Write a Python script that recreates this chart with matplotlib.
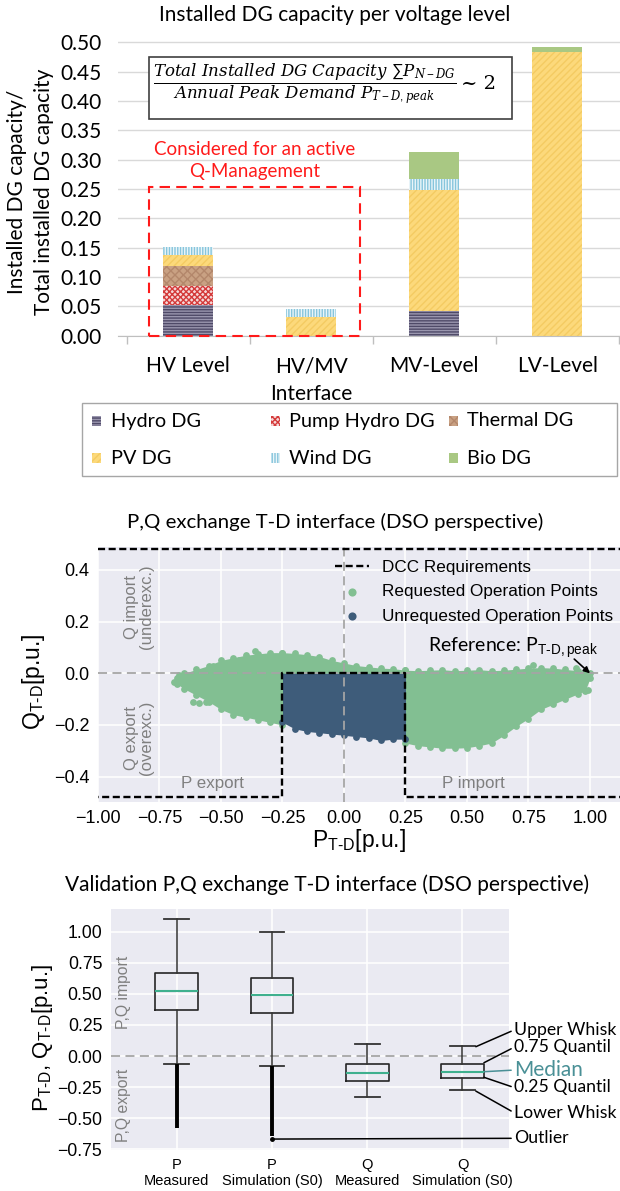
import matplotlib
matplotlib.use('Agg')
import matplotlib.pyplot as plt
from matplotlib.patches import Rectangle
from matplotlib.lines import Line2D
import numpy as np

# ---------------- panel 1: installed DG capacity per voltage level
LEVELS = ['HV Level', 'HV/MV\nInterface', 'MV-Level', 'LV-Level']
DG_TYPES = ['Hydro DG', 'Pump Hydro DG', 'Thermal DG', 'PV DG', 'Wind DG', 'Bio DG']
HYDRO = [0.052, 0.000, 0.042, 0.000]
PUMP_HYDRO = [0.033, 0.000, 0.000, 0.000]
THERMAL = [0.034, 0.000, 0.000, 0.000]
PV = [0.018, 0.032, 0.207, 0.484]
WIND = [0.014, 0.013, 0.018, 0.000]
BIO = [0.000, 0.000, 0.046, 0.008]
Y1_TICKS = [0.00, 0.05, 0.10, 0.15, 0.20, 0.25, 0.30, 0.35, 0.40, 0.45, 0.50]
Q_MGMT_BOX = (-0.32, 1.40, 0.254)      # x0, x1, height of red dashed frame

# ---------------- panel 2: P,Q exchange scatter (cloud outline)
GREEN_P = [-0.68, -0.65, -0.60, -0.55, -0.50, -0.45, -0.40, -0.35, -0.30, -0.25,
           -0.25, -0.20, -0.15, -0.10, -0.05, 0.00, 0.05, 0.10, 0.15, 0.20, 0.25,
           0.25, 0.30, 0.35, 0.40, 0.45, 0.50, 0.55, 0.60, 0.65, 0.70, 0.75,
           0.80, 0.85, 0.90, 0.95, 0.98, 1.00]
GREEN_TOP = [-0.02, 0.00, 0.015, 0.03, 0.05, 0.06, 0.07, 0.075, 0.08, 0.08,
             0.08, 0.077, 0.072, 0.065, 0.05, 0.04, 0.03, 0.025, 0.02, 0.018, 0.012,
             0.012, 0.01, 0.012, 0.014, 0.01, 0.012, 0.014, 0.01, 0.012, 0.016, 0.02,
             0.022, 0.02, 0.015, 0.01, 0.006, 0.0]
GREEN_BOT = [-0.04, -0.06, -0.085, -0.11, -0.14, -0.16, -0.17, -0.18, -0.19, -0.20,
             0.0, 0.0, 0.0, 0.0, 0.0, 0.0, 0.0, 0.0, 0.0, 0.0, 0.0,
             -0.27, -0.28, -0.285, -0.29, -0.29, -0.288, -0.28, -0.27, -0.24, -0.205, -0.175,
             -0.14, -0.12, -0.10, -0.08, -0.068, -0.02]
GREEN_EXTRA_P = [-0.69, -0.676, -0.67, -0.615, -0.588, -0.56, -0.534, -0.453, -0.425,
                 -0.36, 0.767, 0.943, 0.99]
GREEN_EXTRA_Q = [-0.035, -0.032, -0.007, -0.11, -0.116, -0.11, 0.028, 0.026, 0.05,
                 0.085, 0.032, 0.019, -0.065]
BLUE_P = [-0.25, -0.20, -0.15, -0.10, -0.05, 0.00, 0.05, 0.10, 0.15, 0.20, 0.25]
BLUE_BOT = [-0.19, -0.215, -0.225, -0.23, -0.235, -0.24, -0.245, -0.25, -0.26, -0.255, -0.255]
BLUE_TOP = [0.0] * len(BLUE_P)
DCC_P = [-1.2, -0.25, -0.25, 0.25, 0.25, 1.2]
DCC_Q = [-0.48, -0.48, 0.0, 0.0, -0.48, -0.48]
DCC_Q_MAX = 0.48
P2_XTICKS = [-1.0, -0.75, -0.5, -0.25, 0.0, 0.25, 0.5, 0.75, 1.0]
P2_YTICKS = [-0.4, -0.2, 0.0, 0.2, 0.4]

# ---------------- panel 3: validation box plots
BOX_LABELS = ['P\nMeasured', 'P\nSimulation (S0)', 'Q\nMeasured', 'Q\nSimulation (S0)']
WHIS_HI = [1.10, 1.00, 0.095, 0.079]
Q3 = [0.666, 0.625, -0.066, -0.061]
MEDIAN = [0.526, 0.490, -0.138, -0.128]
Q1 = [0.370, 0.345, -0.203, -0.179]
WHIS_LO = [-0.064, -0.077, -0.331, -0.275]
OUTLIER_MIN = [-0.58, -0.645, None, None]
SINGLE_OUTLIER = (2, -0.668)
P3_YTICKS = [-0.75, -0.50, -0.25, 0.00, 0.25, 0.50, 0.75, 1.00]
ANNOT_LABELS = ['Upper Whisk', '0.75 Quantil', 'Median', '0.25 Quantil', 'Lower Whisk', 'Outlier']
ANNOT_Y = [0.209, 0.07, -0.113, -0.253, -0.455, -0.662]

W, H = 620, 1191
CAL = ['Lato', 'DejaVu Sans']
GREEN = '#82bf92'
BLUE = '#3e5c7a'
DARKGRID = '#EAEAF2'

STYLE = {
    'Hydro DG': dict(fc='#9a96ae', ec='#4f4a68', hatch='------'),
    'Pump Hydro DG': dict(fc='#f6d8d8', ec='#d43a3a', hatch='xxxxxx'),
    'Thermal DG': dict(fc='#c9a183', ec='#b3876b', hatch='xxxx'),
    'PV DG': dict(fc='#fcd97b', ec='#f4cb62', hatch='/////'),
    'Wind DG': dict(fc='#86c5dc', ec='#eaf5f9', hatch='||||||'),
    'Bio DG': dict(fc='#a9c883', ec='#a9c883', hatch=None),
}


def fx(px):
    return px / W


def fy(py):
    return 1 - py / H


def darkgrid(ax):
    ax.set_facecolor(DARKGRID)
    for s in ax.spines.values():
        s.set_visible(False)
    ax.grid(True, color='white', lw=1.1)
    ax.set_axisbelow(True)
    ax.tick_params(length=0, labelsize=13, pad=6)


def main():
    plt.rcParams.update({
        'font.family': ['Liberation Sans', 'DejaVu Sans'],
        'mathtext.fontset': 'custom',
        'mathtext.rm': 'Liberation Sans',
        'mathtext.sf': 'Liberation Sans',
        'mathtext.it': 'DejaVu Serif:italic',
        'mathtext.bf': 'Liberation Sans:bold',
        'hatch.linewidth': 1.0,
    })
    fig = plt.figure(figsize=(W / 100, H / 100), dpi=100)

    # ================= panel 1
    ax1 = fig.add_axes([fx(118), fy(335.5), fx(502), 294.8 / H])
    x = np.arange(len(LEVELS))
    bottom = np.zeros(len(LEVELS))
    for name, vals in zip(DG_TYPES, [HYDRO, PUMP_HYDRO, THERMAL, PV, WIND, BIO]):
        st = STYLE[name]
        ax1.bar(x, vals, 0.405, bottom=bottom, color=st['fc'], edgecolor=st['ec'],
                hatch=st['hatch'], linewidth=0, zorder=2)
        bottom += np.array(vals)
    ax1.set_xlim(-0.57, 3.51)
    ax1.set_ylim(0, 0.503)
    ax1.set_yticks(Y1_TICKS)
    ax1.set_yticklabels([f'{v:.2f}' for v in Y1_TICKS], family=CAL, fontsize=15)
    ax1.set_xticks(x)
    ax1.set_xticklabels(LEVELS, family=CAL, fontsize=15, linespacing=1.45)
    ax1.set_xticks([-0.5, 0.5, 1.5, 2.5, 3.5], minor=True)
    ax1.tick_params(axis='x', which='major', length=0, pad=15)
    ax1.tick_params(axis='x', which='minor', length=6, color='#bfbfbf', width=1)
    ax1.tick_params(axis='y', length=0, pad=12)
    for s in ['top', 'right', 'left']:
        ax1.spines[s].set_visible(False)
    ax1.spines['bottom'].set_color('#bfbfbf')
    ax1.yaxis.grid(True, color='#d9d9d9', lw=1)
    ax1.set_axisbelow(True)

    x0, x1, hq = Q_MGMT_BOX
    ax1.add_patch(Rectangle((x0, 0), x1 - x0, hq, fill=False, ec='#ff1a1a',
                            ls=(0, (5, 3)), lw=1.5, zorder=4, clip_on=False))
    ax1.text((x0 + x1) / 2, 0.299, 'Considered for an active\nQ-Management',
             color='#ff1a1a', ha='center', va='center', family=CAL, fontsize=13.5,
             linespacing=1.35, zorder=4)

    ax1.add_patch(Rectangle((-0.32, 0.369), 2.953, 0.106, fc='white', ec='#404040',
                            lw=1.2, zorder=3))
    formula = (r'$\dfrac{Total\ Installed\ DG\ Capacity\ \sum P_{N-DG}}'
               r'{Annual\ Peak\ Demand\ P_{T-D,peak}}$')
    ax1.text(0.95, 0.429, formula, ha='center', va='center', fontsize=12.0, zorder=4)
    ax1.text(2.36, 0.429, '~ 2', ha='center', va='center', family='DejaVu Serif',
             fontsize=14, zorder=4)

    fig.text(fx(334.5), fy(15), 'Installed DG capacity per voltage level',
             ha='center', va='center', family=CAL, fontsize=15)
    fig.text(fx(30.5), fy(192), 'Installed DG capacity/\nTotal installed DG capacity',
             rotation=90, ha='center', va='center', multialignment='center',
             family=CAL, fontsize=15, linespacing=1.4)

    # legend for panel 1 (equal column grid like the original)
    fig.add_artist(Rectangle((fx(82), fy(476)), fx(535), 73 / H, fill=False,
                             ec='#a6a6a6', lw=1, transform=fig.transFigure))
    col_patch = [92, 271, 449]
    col_text = [111, 289, 467]
    row_y = [421, 458]
    for i, name in enumerate(DG_TYPES):
        r, c = divmod(i, 3)
        st = STYLE[name]
        fig.add_artist(Rectangle((fx(col_patch[c]), fy(row_y[r] + 5)), 9 / W, 10 / H,
                                 fc=st['fc'], ec=st['ec'], hatch=st['hatch'], lw=0,
                                 transform=fig.transFigure))
        fig.text(fx(col_text[c]), fy(row_y[r]), name, ha='left', va='center',
                 family=CAL, fontsize=14.3)

    # ================= panel 2
    ax2 = fig.add_axes([fx(98), fy(801.7), fx(522), 255 / H])
    darkgrid(ax2)
    ax2.fill_between(GREEN_P, GREEN_BOT, GREEN_TOP, color=GREEN, lw=0, zorder=2)
    sc_g = ax2.scatter(GREEN_P, GREEN_TOP, s=24, color=GREEN, lw=0, zorder=2)
    ax2.scatter(GREEN_P, GREEN_BOT, s=24, color=GREEN, lw=0, zorder=2)
    ax2.scatter(GREEN_EXTRA_P, GREEN_EXTRA_Q, s=24, color=GREEN, lw=0, zorder=2)
    ax2.fill_between(BLUE_P, BLUE_BOT, BLUE_TOP, color=BLUE, lw=0, zorder=2.5)
    sc_b = ax2.scatter(BLUE_P, BLUE_BOT, s=24, color=BLUE, lw=0, zorder=2.5)
    ax2.axhline(0, color='#a5a5a5', ls=(0, (5, 3)), lw=1.3, zorder=3)
    ax2.axvline(0, color='#a5a5a5', ls=(0, (5, 3)), lw=1.3, zorder=3)
    ax2.plot(DCC_P, DCC_Q, color='black', ls=(0, (3, 1.5)), lw=1.7, zorder=4)
    ax2.axhline(DCC_Q_MAX, color='black', ls=(0, (3, 1.5)), lw=1.7, zorder=4)
    ax2.set_xlim(-1.0, 1.122)
    ax2.set_ylim(-0.497, 0.49)
    ax2.set_xticks(P2_XTICKS)
    ax2.set_yticks(P2_YTICKS)

    gray = '#7f7f7f'
    ax2.text(-0.832, 0.258, 'Q import\n(underexc.)', rotation=90, ha='center', va='center',
             color=gray, fontsize=12, linespacing=1.0)
    ax2.text(-0.832, -0.25, 'Q export\n(overexc.)', rotation=90, ha='center', va='center',
             color=gray, fontsize=12, linespacing=1.0)
    ax2.text(-0.534, -0.426, 'P export', ha='center', va='center', color=gray, fontsize=12.2)
    ax2.text(0.527, -0.426, 'P import', ha='center', va='center', color=gray, fontsize=12.2)
    ax2.text(0.342, 0.097, r'Reference: P$_\mathrm{T\text{-}D,peak}$', ha='left', va='center',
             family=CAL, fontsize=14, zorder=5)
    ax2.annotate('', xy=(1.0, 0.0), xytext=(0.936, 0.055),
                 arrowprops=dict(arrowstyle='-|>', color='black', lw=1.2,
                                 mutation_scale=9, shrinkA=0, shrinkB=0), zorder=5)

    handles = [Line2D([], [], color='black', ls=(0, (3, 1.5)), lw=1.7), sc_g, sc_b]
    labels = ['DCC Requirements', 'Requested Operation Points', 'Unrequested Operation Points']
    ax2.legend(handles, labels, loc='upper left', bbox_to_anchor=(fx(328), fy(553)),
               bbox_transform=fig.transFigure, frameon=False, fontsize=12.3,
               handlelength=2.0, handletextpad=0.75, labelspacing=0.55,
               borderaxespad=0, borderpad=0.4, scatterpoints=1, markerscale=1.2)

    fig.text(fx(335), fy(521.7), 'P,Q exchange T-D interface (DSO perspective)',
             ha='center', va='center', family=CAL, fontsize=14.7)
    fig.text(fx(33.6), fy(681.7), r'Q$_\mathrm{T\text{-}D}$[p.u.]', rotation=90,
             ha='center', va='center', fontsize=16.5)
    fig.text(fx(359.5), fy(841), r'P$_\mathrm{T\text{-}D}$[p.u.]',
             ha='center', va='center', fontsize=16.5)

    # ================= panel 3
    ax3 = fig.add_axes([fx(110.7), fy(1150), fx(398), 241 / H])
    darkgrid(ax3)
    stats = [dict(med=m, q1=a, q3=b, whislo=lo, whishi=hi, fliers=[])
             for m, a, b, lo, hi in zip(MEDIAN, Q1, Q3, WHIS_LO, WHIS_HI)]
    pos = [1, 2, 3, 4]
    ax3.bxp(stats, positions=pos, widths=0.45, capwidths=0.26, showfliers=False,
            boxprops=dict(color='#262626', lw=1.2),
            whiskerprops=dict(color='#333333', lw=1.1),
            capprops=dict(color='#333333', lw=1.3),
            medianprops=dict(color='#3fb08e', lw=1.5), zorder=3)
    for p, lo, omin in zip(pos, WHIS_LO, OUTLIER_MIN):
        if omin is not None:
            ax3.vlines(p, omin, lo, colors='black', lw=2.8, zorder=3)
    ax3.plot(*SINGLE_OUTLIER, 'o', ms=2.5, color='black', zorder=3)
    ax3.axhline(0, color='#a5a5a5', ls=(0, (5, 3)), lw=1.3, zorder=2)
    ax3.set_xlim(0.307, 4.485)
    ax3.set_ylim(-0.756, 1.183)
    ax3.set_yticks(P3_YTICKS)
    ax3.set_yticklabels([f'{v:.2f}'.replace('-', '\u2212') for v in P3_YTICKS], fontsize=12.7)
    ax3.set_xticks(pos)
    ax3.set_xticklabels(BOX_LABELS, fontsize=10.5, linespacing=1.15)
    ax3.tick_params(axis='x', pad=6)

    ax3.text(0.44, 0.51, 'P,Q import', rotation=90, ha='center', va='center',
             color=gray, fontsize=11.3)
    ax3.text(0.44, -0.40, 'P,Q export', rotation=90, ha='center', va='center',
             color=gray, fontsize=11.3)

    # annotations on the Q simulation box
    half_box, half_cap = 0.225, 0.13
    targets = [(4 + half_cap + 0.01, WHIS_HI[3] - 0.004),
               (4 + half_box, Q3[3] + 0.007),
               (4 + half_box, MEDIAN[3] + 0.002),
               (4 + half_box, Q1[3] + 0.008),
               (4 + half_cap + 0.01, WHIS_LO[3] - 0.007),
               SINGLE_OUTLIER]
    for lab, ty, xy in zip(ANNOT_LABELS, ANNOT_Y, targets):
        is_med = lab == 'Median'
        col = '#4a9096' if is_med else 'black'
        ax3.annotate(lab, xy=xy, xytext=(4.54, ty), ha='left', va='center',
                     family=CAL, fontsize=15 if is_med else 12.7, color=col,
                     annotation_clip=False,
                     arrowprops=dict(arrowstyle='-', color=col, lw=1.1,
                                     shrinkA=0, shrinkB=0, relpos=(0, 0.5)))

    fig.text(fx(327.5), fy(885), 'Validation P,Q exchange T-D interface (DSO perspective)',
             ha='center', va='center', family=CAL, fontsize=15)
    fig.text(fx(43), fy(1038), r'P$_\mathrm{T\text{-}D}$, Q$_\mathrm{T\text{-}D}$[p.u.]',
             rotation=90, ha='center', va='center', fontsize=16)

    fig.savefig('out.png', dpi=100, facecolor='white')
    plt.close(fig)


if __name__ == '__main__':
    main()
